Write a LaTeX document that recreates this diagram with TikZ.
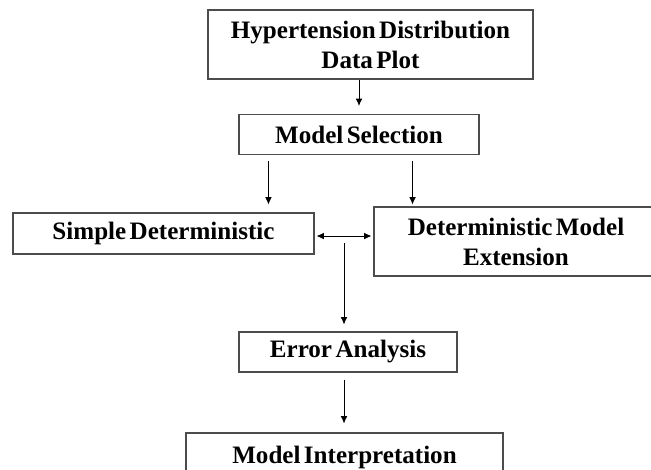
\documentclass[tikz,border=0pt]{standalone}
\usepackage{fontspec}
\setmainfont{Liberation Serif}
\newfontfamily\blkfam{Liberation Serif}[WordSpace=0.55]
\usetikzlibrary{arrows.meta}

\begin{document}
\begin{tikzpicture}[x=0.75pt, y=-0.75pt,
    blk/.style={draw=black!70, line width=0.8pt, inner sep=0pt, align=center,
      font=\blkfam\fontsize{18.8}{22.5}\selectfont\bfseries},
    arr/.style={-{Latex[length=5.5pt,width=5pt]}, line width=0.6pt},
    dbl/.style={{Latex[length=5.5pt,width=5pt]}-{Latex[length=5.5pt,width=5pt]}, line width=0.6pt}]
  \useasboundingbox (0,0) rectangle (651,470);
  \node[blk, minimum width=243.75pt, minimum height=51.75pt] (hyp) at (370.5,44.5) {Hypertension Distribution\\Data Plot};
  \node[blk, minimum width=180pt, minimum height=30pt] (sel) at (359,134.5) {Model Selection};
  \node[blk, minimum width=225.75pt, minimum height=30.75pt] (simple) at (163.5,233.5) {Simple Deterministic};
  \node[blk, minimum width=213pt, minimum height=51.75pt] (ext) at (516,241.5) {Deterministic Model\\Extension};
  \node[blk, minimum width=163.5pt, minimum height=30pt] (err) at (348,352) {Error Analysis};
  \node[blk, minimum width=237.75pt, minimum height=36pt] (interp) at (344.5,457) {Model Interpretation};
  \coordinate (selL) at ([xshift=22.5pt]sel.south west);
  \coordinate (selR) at ([xshift=-50.25pt]sel.south east);
  \coordinate (join) at (344,243);
  \draw[arr, shorten >=6pt] (hyp.south -| sel.north) -- (sel.north);
  \draw[arr, shorten <=4.5pt, shorten >=6pt] (selL) -- (selL |- simple.north);
  \draw[arr, shorten <=4.5pt, shorten >=1.5pt] (selR) -- (selR |- ext.north);
  \draw[dbl, shorten <=1.5pt, shorten >=1.5pt] ([yshift=-1.9pt]simple.east) -- ([yshift=-1.9pt]simple.east -| ext.west);
  \draw[arr, shorten >=5.25pt] (join) -- (join |- err.north);
  \draw[arr, shorten <=5.25pt, shorten >=6.75pt] (join |- err.south) -- (join |- interp.north);
\end{tikzpicture}
\end{document}
